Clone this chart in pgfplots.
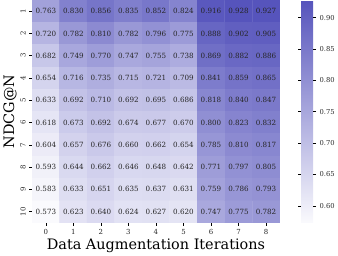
\documentclass[border=0pt]{standalone}
\usepackage{pgfplots}
\pgfplotsset{compat=1.18}
\usepackage{pgfplotstable}
\usepackage{fontspec}
\setmainfont{DejaVu Serif}
\pgfplotstableread{
x y z
0 1 0.763
1 1 0.830
2 1 0.856
3 1 0.835
4 1 0.852
5 1 0.824
6 1 0.916
7 1 0.928
8 1 0.927
0 2 0.720
1 2 0.782
2 2 0.810
3 2 0.782
4 2 0.796
5 2 0.775
6 2 0.888
7 2 0.902
8 2 0.905
0 3 0.682
1 3 0.749
2 3 0.770
3 3 0.747
4 3 0.755
5 3 0.738
6 3 0.869
7 3 0.882
8 3 0.886
0 4 0.654
1 4 0.716
2 4 0.735
3 4 0.715
4 4 0.721
5 4 0.709
6 4 0.841
7 4 0.859
8 4 0.865
0 5 0.633
1 5 0.692
2 5 0.710
3 5 0.692
4 5 0.695
5 5 0.686
6 5 0.818
7 5 0.840
8 5 0.847
0 6 0.618
1 6 0.673
2 6 0.692
3 6 0.674
4 6 0.677
5 6 0.670
6 6 0.800
7 6 0.823
8 6 0.832
0 7 0.604
1 7 0.657
2 7 0.676
3 7 0.660
4 7 0.662
5 7 0.654
6 7 0.785
7 7 0.810
8 7 0.817
0 8 0.593
1 8 0.644
2 8 0.662
3 8 0.646
4 8 0.648
5 8 0.642
6 8 0.771
7 8 0.797
8 8 0.805
0 9 0.583
1 9 0.633
2 9 0.651
3 9 0.635
4 9 0.637
5 9 0.631
6 9 0.759
7 9 0.786
8 9 0.793
0 10 0.573
1 10 0.623
2 10 0.640
3 10 0.624
4 10 0.627
5 10 0.620
6 10 0.747
7 10 0.775
8 10 0.782
}\heat
\begin{document}
\begin{tikzpicture}
\begin{axis}[
  scale only axis,
  width=249pt, height=224pt,
  xmin=-0.5, xmax=8.5, ymin=0.5, ymax=10.5,
  y dir=reverse,
  enlargelimits=false,
  axis line style={draw=none},
  xtick={0,...,8}, ytick={1,...,10},
  xtick pos=bottom, ytick pos=left,
  tick align=outside,
  major tick length=3pt,
  tick style={black, line width=0.6pt},
  /pgf/number format/assume math mode=true,
  ticklabel style={font=\fontsize{7}{8}\selectfont, text=black!85},
  yticklabel style={rotate=90, anchor=south},
  xlabel={Data Augmentation Iterations},
  ylabel={NDCG@N},
  label style={font=\fontsize{14.5}{16}\selectfont},
  xlabel style={yshift=3pt},
  ylabel style={yshift=-3pt},
  colormap={bp}{rgb255=(250,250,253) rgb255=(86,84,188)},
  point meta min=0.573, point meta max=0.928,
  colorbar,
  colorbar style={
    width=12pt,
    at={(parent axis.north east)}, anchor=north west, xshift=13pt,
    axis line style={draw=none},
    ytick={0.60,0.65,...,0.91},
    tick align=outside,
    major tick length=3pt,
    tick style={black, line width=0.6pt},
    /pgf/number format/assume math mode=true,
    yticklabel style={font=\fontsize{6.8}{8}\selectfont, text=black!85,
      /pgf/number format/.cd, fixed, precision=2, zerofill},
  },
]
\addplot[matrix plot*, mesh/cols=9, point meta=explicit,
  nodes near coords={\pgfmathprintnumber[fixed,precision=3,zerofill]{\pgfplotspointmeta}},
  every node near coord/.append style={anchor=center, font=\fontsize{7.2}{8}\selectfont, text=black!85},
] table[meta=z] {\heat};
\end{axis}
\end{tikzpicture}
\end{document}
